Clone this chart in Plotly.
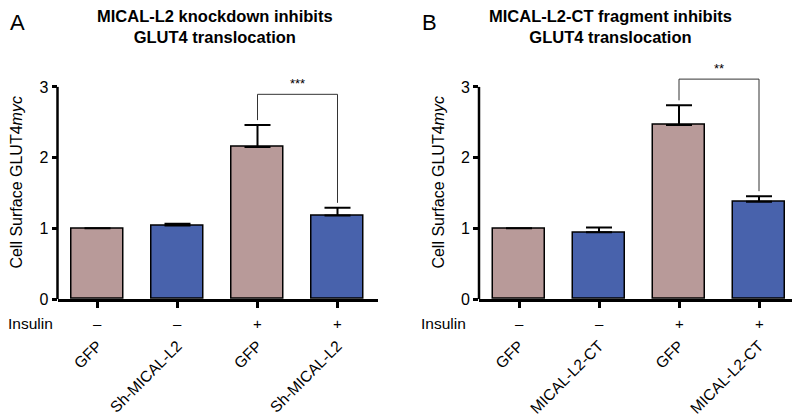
import plotly.graph_objects as go

# ---- data ----
categories_a = ["GFP", "Sh-MICAL-L2", "GFP", "Sh-MICAL-L2"]
values_a = [1.00, 1.04, 2.15, 1.18]
errors_a = [0.0, 0.025, 0.31, 0.11]

categories_b = ["GFP", "MICAL-L2-CT", "GFP", "MICAL-L2-CT"]
values_b = [1.00, 0.945, 2.46, 1.375]
errors_b = [0.0, 0.065, 0.28, 0.08]

insulin = ["–", "–", "+", "+"]
bar_colors = ["#b89a99", "#4862ac", "#b89a99", "#4862ac"]

titles = ["<b>MICAL-L2 knockdown inhibits<br>GLUT4 translocation</b>",
          "<b>MICAL-L2-CT fragment inhibits<br>GLUT4 translocation</b>"]
panel_letters = ["A", "B"]
stars = ["***", "**"]
bracket_top = [2.895, 3.11]
bracket_pair = [2, 3]
y_ticks = [0, 1, 2, 3]
y_axis_max = 3
y_range_max = 3.3

FONT = "Liberation Sans, Arial, sans-serif"
OFF = 8                      # page body margin of the html page
W, H = 800 - OFF, 418 - OFF


def px(xp):
    return (xp - OFF) / W


def py(yp):
    return (H - (yp - OFF)) / H


fig = go.Figure()

x_domains = [(px(57.5), px(377.5)), (px(479), px(799))]
y0_px, y_top_px = 299, 299 - 70.7 * y_range_max
y_domain = (py(y0_px), py(y_top_px))
title_x = [px(215), px(610.7)]

panels = [(categories_a, values_a, errors_a), (categories_b, values_b, errors_b)]
annotations = []
shapes = []

for i, (cats, vals, errs) in enumerate(panels):
    xa = "x" if i == 0 else "x2"
    ya = "y" if i == 0 else "y2"
    idx = list(range(len(cats)))
    fig.add_trace(go.Bar(
        x=idx, y=vals, width=0.66,
        marker=dict(color=bar_colors, line=dict(color="black", width=1.5)),
        error_y=dict(type="data", array=errs, arrayminus=[0] * len(errs),
                     symmetric=False, color="black", thickness=2, width=13),
        xaxis=xa, yaxis=ya, showlegend=False, hoverinfo="skip",
    ))
    # significance bracket
    a, b = bracket_pair
    gap = 0.07
    fig.add_trace(go.Scatter(
        x=[a, a, b, b],
        y=[vals[a] + errs[a] + gap, bracket_top[i], bracket_top[i], vals[b] + errs[b] + gap],
        mode="lines", line=dict(color="#333333", width=1),
        xaxis=xa, yaxis=ya, showlegend=False, hoverinfo="skip",
    ))
    annotations.append(dict(
        x=(a + b) / 2, y=bracket_top[i], xref=xa, yref=ya, text=stars[i],
        showarrow=False, yanchor="bottom", yshift=1,
        font=dict(family=FONT, size=13, color="black"),
    ))
    # y axis line (only up to 3)
    xd = "x domain" if i == 0 else "x2 domain"
    yd = "y domain" if i == 0 else "y2 domain"
    shapes.append(dict(type="line", xref=xd, yref=yd, x0=0, x1=0,
                       y0=0, y1=y_axis_max / y_range_max,
                       line=dict(color="black", width=2.5)))
    # insulin row
    if i == 0:
        annotations.append(dict(x=0, y=py(323), xref="paper", yref="paper",
                                text="Insulin", showarrow=False, xanchor="left", xshift=-2,
                                yanchor="middle", font=dict(family=FONT, size=15.5, color="black")))
    else:
        annotations.append(dict(x=-0.035, y=py(323), xref=xd, yref="paper",
                                text="Insulin", showarrow=False, xanchor="right",
                                yanchor="middle", font=dict(family=FONT, size=15.5, color="black")))
    for k, s in enumerate(insulin):
        annotations.append(dict(x=k, y=py(323), xref=xa, yref="paper",
                                text=s, showarrow=False, yanchor="middle",
                                font=dict(family=FONT, size=15, color="black")))
    # title
    annotations.append(dict(x=title_x[i], y=py(26.5), xref="paper", yref="paper",
                            text=titles[i], showarrow=False, xanchor="center",
                            yanchor="middle", align="center",
                            font=dict(family=FONT, size=16.5, color="black")))

annotations.append(dict(x=0, y=1, xref="paper", yref="paper", text=panel_letters[0],
                        showarrow=False, xanchor="left", yanchor="top",
                        font=dict(family=FONT, size=22, color="black")))
annotations.append(dict(x=px(429), y=1, xref="paper", yref="paper", text=panel_letters[1],
                        showarrow=False, xanchor="center", yanchor="top",
                        font=dict(family=FONT, size=22, color="black")))

xaxis_common = dict(range=[-0.5, 3.5], showline=True, linewidth=2.5, linecolor="black",
                    ticks="outside", ticklen=6, tickwidth=2.5, tickcolor="black",
                    tickvals=[0, 1, 2, 3], tickangle=-45, ticklabelstandoff=23,
                    tickfont=dict(family=FONT, size=15.5, color="black"),
                    showgrid=False, zeroline=False, fixedrange=True)
yaxis_common = dict(range=[0, y_range_max], showline=False,
                    ticks="outside", ticklen=5, tickwidth=2.5, tickcolor="black",
                    tickvals=y_ticks, tickfont=dict(family=FONT, size=16, color="black"),
                    showgrid=False, zeroline=False, domain=list(y_domain),
                    title=dict(text="Cell Surface GLUT4<i>myc</i>", standoff=12,
                               font=dict(family=FONT, size=16, color="black")))

fig.update_layout(
    width=W, height=H,
    margin=dict(l=0, r=0, t=0, b=0, autoexpand=False),
    paper_bgcolor="white", plot_bgcolor="white",
    xaxis=dict(xaxis_common, domain=list(x_domains[0]), ticktext=categories_a, anchor="y"),
    xaxis2=dict(xaxis_common, domain=list(x_domains[1]), ticktext=categories_b, anchor="y2"),
    yaxis=dict(yaxis_common, anchor="x"),
    yaxis2=dict(yaxis_common, anchor="x2"),
    annotations=annotations,
    shapes=shapes,
    bargap=0,
)

fig.write_html("out.html")
